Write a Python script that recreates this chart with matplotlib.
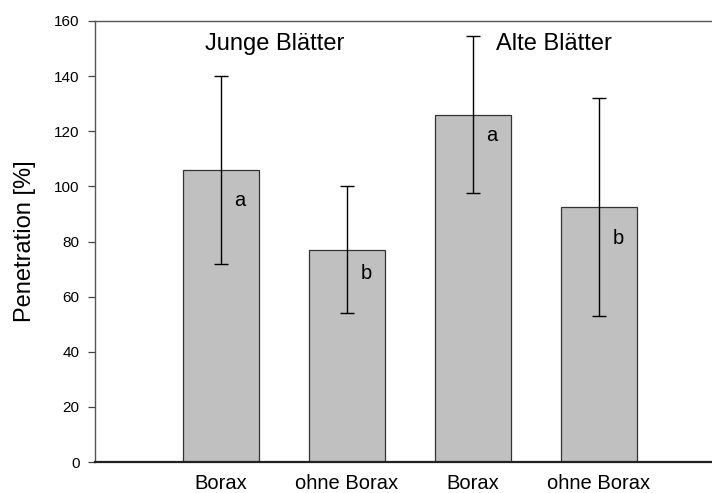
import matplotlib.pyplot as plt

# values
categories = ['Borax', 'ohne Borax', 'Borax', 'ohne Borax']
penetration = [106, 77, 126, 92.5]
err_up = [34, 23, 28.5, 39.7]
err_down = [34, 23, 28.5, 39.7]
letters = ['a', 'b', 'a', 'b']
letter_y = [95, 68.5, 118.5, 81]
groups = ['Junge Blätter', 'Alte Blätter']

plt.rcParams['font.family'] = ['Liberation Sans', 'DejaVu Sans']

fig = plt.figure(figsize=(7.12, 4.93), dpi=100)
ax = fig.add_axes([95 / 712, 1 - 462 / 493, 1 - 95 / 712, (462 - 21) / 493])

x = [1, 2, 3, 4]
ax.bar(x, penetration, width=0.6, color='#c0c0c0', edgecolor='#333333', linewidth=0.9, zorder=2)
ax.errorbar(x, penetration, yerr=[err_down, err_up], fmt='none', ecolor='black',
            elinewidth=1.0, capsize=5, capthick=1.0, zorder=3)

for xi, lab, ly in zip(x, letters, letter_y):
    ax.text(xi + 0.15, ly, lab, fontsize=14.5, ha='center', va='center')

ax.text(1.43, 151.5, groups[0], fontsize=17, ha='center', va='center')
ax.text(3.64, 151.5, groups[1], fontsize=17, ha='center', va='center')

ax.set_xlim(0, 617 / 126)
ax.set_ylim(0, 160)
ax.set_yticks(range(0, 161, 20))
ax.set_xticks(x)
ax.set_xticklabels(categories, fontsize=14.5)
ax.tick_params(axis='x', length=0, pad=8.5)
ax.tick_params(axis='y', labelsize=11, length=5, width=0.9, pad=6, color='#444444')
ax.set_ylabel('Penetration [%]', fontsize=17, labelpad=13)

ax.spines['right'].set_visible(False)
ax.spines['left'].set_color('#555555')
ax.spines['left'].set_linewidth(1.0)
ax.spines['top'].set_color('#555555')
ax.spines['top'].set_linewidth(1.0)
ax.spines['bottom'].set_color('#222222')
ax.spines['bottom'].set_linewidth(1.6)

fig.savefig('out.png', dpi=100)
